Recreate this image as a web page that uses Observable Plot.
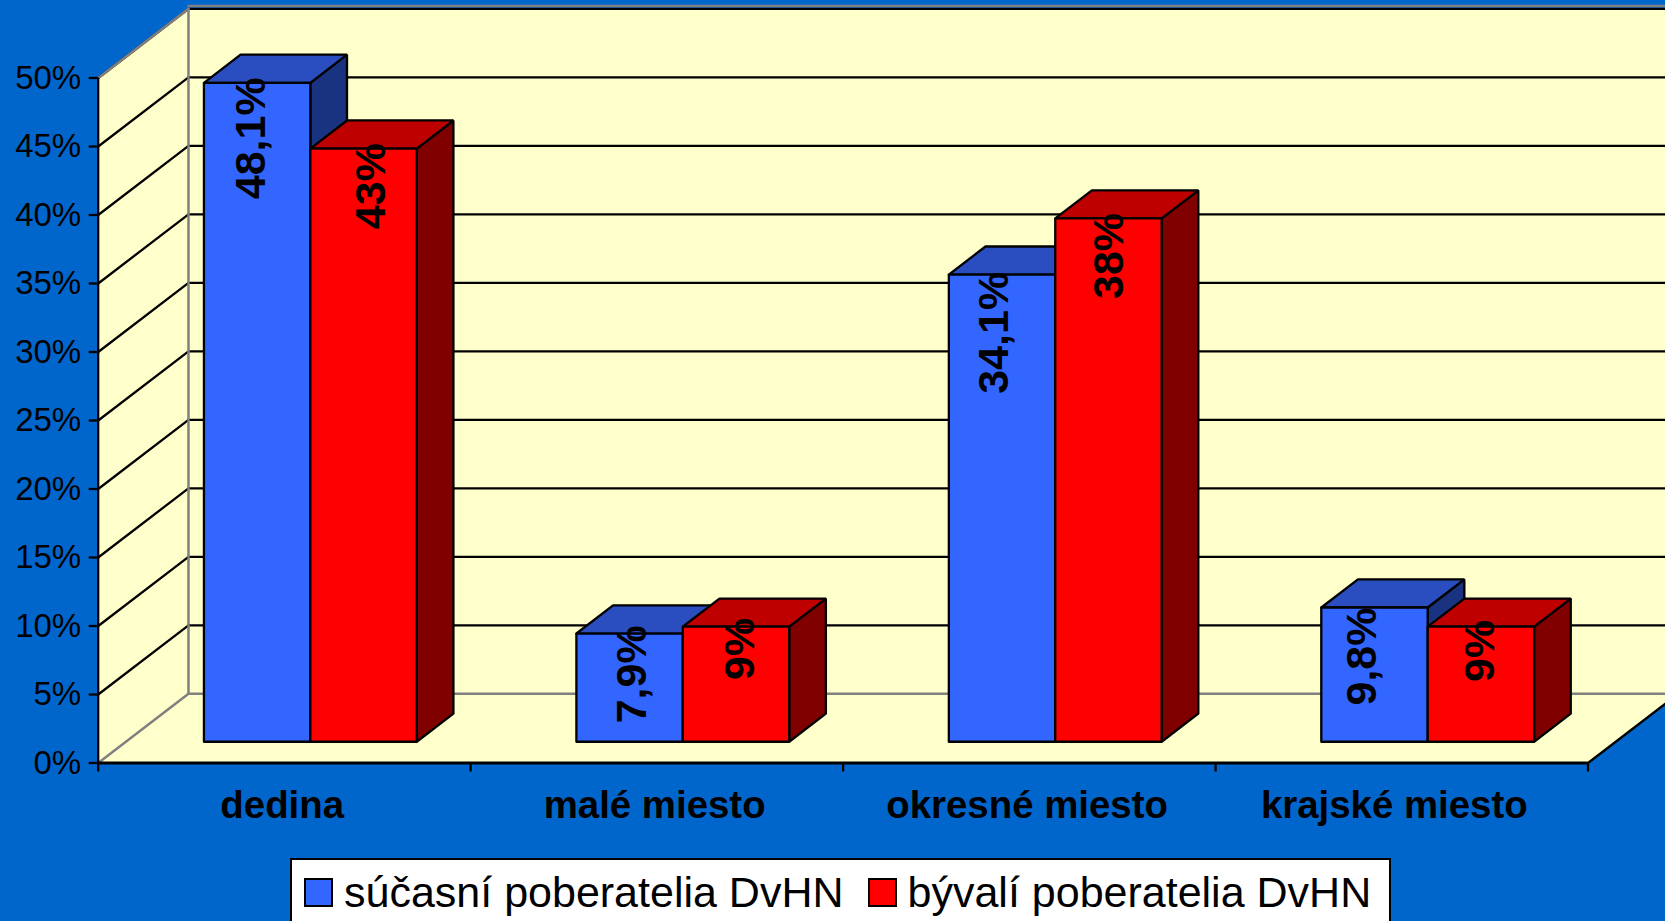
<!DOCTYPE html>
<html><head><meta charset="utf-8">
<script src="https://cdn.jsdelivr.net/npm/d3@7"></script>
<script src="https://cdn.jsdelivr.net/npm/@observablehq/plot@0.6"></script>
<style>
html,body{margin:0;padding:0;background:#0066cc;overflow:hidden;width:1665px;height:921px}
svg{display:block;background:#0066cc}
#legend{position:absolute;left:290px;top:858px;width:1101px;height:63px;box-sizing:border-box;background:#fff;border:2px solid #000;border-bottom:none;
 font:43px "Liberation Sans",Arial,sans-serif;color:#000;white-space:nowrap;display:flex;align-items:center;padding-left:12px;padding-top:3px}
#legend i{display:inline-block;width:25px;height:25px;border:2px solid #000;margin-right:11px;flex:none}
#legend span{margin-right:24px}
</style></head><body>
<div id="chart"></div>
<div id="legend"></div>
<script>
const categories = ["dedina", "malé miesto", "okresné miesto", "krajské miesto"];
const seriesNames = ["súčasní poberatelia DvHN", "bývalí poberatelia DvHN"];
const current = [48.1, 7.9, 34.1, 9.8];
const former = [43.3, 8.4, 38.2, 8.4];
const currentLabels = ["48,1%", "7,9%", "34,1%", "9,8%"];
const formerLabels = ["43%", "9%", "38%", "9%"];
const currentLabelLift = [0.4, 0.6, 0.2, 0];
const formerLabelLift = [0.4, 0.65, 0.4, 0.5];
const currentLabelNudge = [-0.017, 0.006, -0.02, -0.032];
const formerLabelNudge = [0.02, 0.01, 0.003, -0.001];
const categoryLabelNudge = [-0.006, -0.006, -0.006, -0.02];
const yTicks = [0,5,10,15,20,25,30,35,40,45,50];

// oblique projection, all in data units
const skew = 0.048, wallDepth = 5.05, barBase = 1.55, barDepth = 2.05;
const barLeft = 0.2095, barW = 2/7;
const P = (cx, v, d = 0) => ({x: cx + d*skew, y: v + d});
const poly = (pts, fill, stroke = "#000", strokeWidth = 2.3) =>
  Plot.line([...pts, pts[0]], {x:"x", y:"y", fill, stroke, strokeWidth, curve:"linear", strokeLinejoin:"miter"});
const seg = (a, b, stroke, strokeWidth = 2.3) => Plot.line([a,b], {x:"x", y:"y", stroke, strokeWidth});

const wall = "#ffffcc", grey = "#808080";
const n = categories.length;
const marks = [
  poly([P(0,0),P(n,0),P(n,0,wallDepth),P(0,0,wallDepth)], wall, "none"),
  poly([P(0,0),P(0,0,wallDepth),P(0,50,wallDepth),P(0,50)], wall, "none"),
  poly([P(0,0,wallDepth),P(n,0,wallDepth),P(n,50,wallDepth),P(0,50,wallDepth)], wall, "none")
];
for (const v of yTicks) {
  if (v === 0) continue;
  marks.push(seg(P(0,v),P(0,v,wallDepth),"#000"));
  marks.push(seg(P(0,v,wallDepth),P(n,v,wallDepth),"#000"));
}
marks.push(seg(P(0,0),P(0,0,wallDepth),grey,2.5));
marks.push(seg(P(0,0,wallDepth),P(n,0,wallDepth),grey,2.5));
marks.push(seg(P(0,0,wallDepth),P(0,50,wallDepth),grey,2.5));
marks.push(seg(P(0,50),P(0,50,wallDepth),grey,2.5));
marks.push(Plot.line([P(0,50.2,wallDepth),P(n,50.2,wallDepth)],{x:"x",y:"y",stroke:grey,strokeWidth:2.5}));
marks.push(seg(P(n,0),P(n,0,wallDepth),"#000"));

const box = (x0, v, c) => {
  const x1 = x0 + barW;
  return [
    poly([P(x1,0,barBase),P(x1,0,barBase+barDepth),P(x1,v,barBase+barDepth),P(x1,v,barBase)], c[2]),
    poly([P(x0,v,barBase),P(x1,v,barBase),P(x1,v,barBase+barDepth),P(x0,v,barBase+barDepth)], c[1]),
    poly([P(x0,0,barBase),P(x1,0,barBase),P(x1,v,barBase),P(x0,v,barBase)], c[0])
  ];
};
const blue = ["#3366ff","#2a4dbf","#1a3380"], red = ["#ff0000","#bf0000","#800000"];
const textRows = [];
categories.forEach((c,i) => {
  const x0 = i + barLeft;
  marks.push(...box(x0, current[i], blue));
  marks.push(...box(x0 + barW, former[i], red));
  textRows.push({x: P(x0 + barW/2 + currentLabelNudge[i], 0, barBase).x, y: current[i] + currentLabelLift[i] + barBase, t: currentLabels[i]});
  textRows.push({x: P(x0 + 1.5*barW + formerLabelNudge[i], 0, barBase).x, y: former[i] + formerLabelLift[i] + barBase, t: formerLabels[i]});
});
marks.push(Plot.text(textRows, {x:"x", y:"y", text:"t", rotate:-90, textAnchor:"end", lineAnchor:"middle",
  fontSize:43, fontWeight:"bold", fontFamily:"Liberation Sans", fill:"#000"}));

marks.push(Plot.axisY({ticks:yTicks, tickFormat:d=>d+"%", tickSize:9, tickPadding:8, label:null, stroke:"#000", strokeWidth:2.3, fontSize:33, fontFamily:"Liberation Sans", fill:"#000", color:"#000"}));
marks.push(Plot.ruleX([0],{y1:0,y2:50,stroke:"#000",strokeWidth:2.3}));
marks.push(Plot.ruleY([0],{x1:0,x2:n,stroke:"#000",strokeWidth:3}));
marks.push(Plot.axisX({ticks:d3.range(n+1),tickFormat:()=>"",tickSize:9,label:null,stroke:"#000",strokeWidth:2.3}));
marks.push(Plot.text(categories,{x:(d,i)=>i+0.5+categoryLabelNudge[i],y:()=>0,text:d=>d,dy:43,fontSize:38.4,fontWeight:"bold",fontFamily:"Liberation Sans",fill:"#000"}));

const chart = Plot.plot({
  width:1665, height:858,
  marginLeft:97.7, marginRight:77.5, marginTop:77.5, marginBottom:95.5,
  style:{background:"#0066cc",overflow:"hidden",fontFamily:"Liberation Sans"},
  x:{type:"linear",domain:[0,n]},
  y:{type:"linear",domain:[0,50]},
  marks
});
document.getElementById("chart").append(chart);
const leg = document.getElementById("legend");
seriesNames.forEach((s,i)=>{
  const sw=document.createElement("i"); sw.style.background=[blue[0],red[0]][i]; leg.append(sw);
  const t=document.createElement("span"); t.textContent=s; leg.append(t);
});
</script>
</body></html>
